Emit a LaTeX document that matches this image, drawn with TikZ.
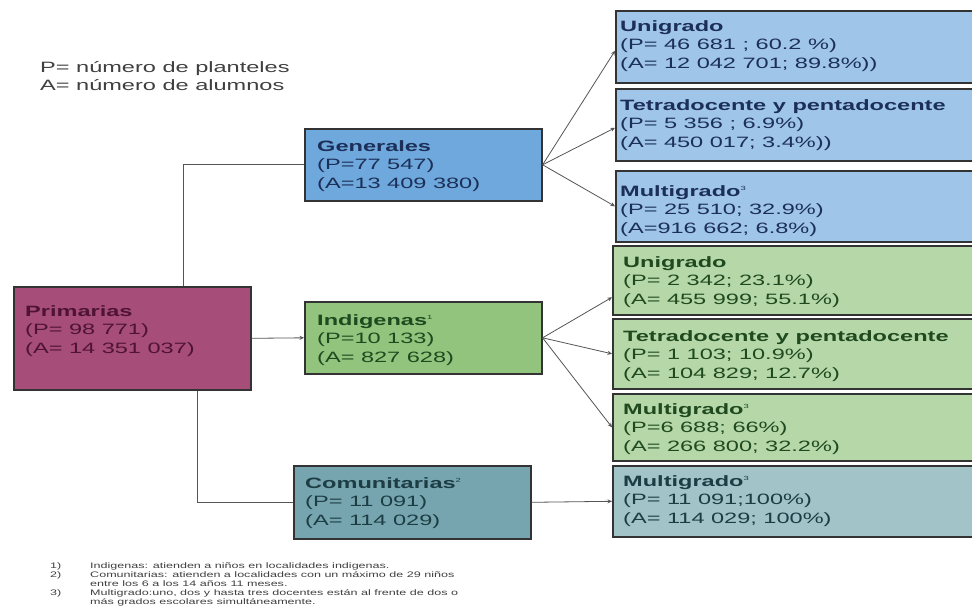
\documentclass[tikz,border=0pt]{standalone}
\usepackage{fontspec}
\setmainfont{Liberation Sans}[FakeStretch=1.57]
\usetikzlibrary{arrows.meta}
\definecolor{cPrim}{HTML}{A64D79}
\definecolor{cGen}{HTML}{6FA8DC}
\definecolor{cInd}{HTML}{93C47D}
\definecolor{cCom}{HTML}{76A5AF}
\definecolor{cBlue}{HTML}{9FC5E8}
\definecolor{cGreen}{HTML}{B6D7A8}
\definecolor{cTeal}{HTML}{A2C4C9}
\definecolor{tPrim}{HTML}{4F1433}
\definecolor{tBlue}{HTML}{1C2F58}
\definecolor{tGreen}{HTML}{1F4A1F}
\definecolor{tTeal}{HTML}{1D3D44}
\definecolor{edge}{HTML}{333333}
\definecolor{conn}{HTML}{555555}
\newcommand{\fn}[1]{\textsuperscript{\fontsize{6}{6}\selectfont #1}}
\tikzset{
  boxnode/.style={draw=edge, line width=1.6pt, rectangle, inner sep=0pt, anchor=north west},
  txt/.style={anchor=base west, inner sep=0pt, align=left, font=\fontsize{15}{18.5}\selectfont},
  fntxt/.style={anchor=base west, inner sep=0pt, align=left, font=\fontsize{8}{9}\selectfont, text=black!75},
  link/.style={draw=conn, line width=0.8pt},
  arr/.style={link, -{Stealth[length=4.5pt,width=4pt]}}
}
\begin{document}
\begin{tikzpicture}[x=1pt,y=-1pt]
\useasboundingbox (0,0) rectangle (972,614);
\clip (0,0) rectangle (972,614);
\fill[white] (0,0) rectangle (972,614);

% legend (anchor = baseline of last line)
\node[txt, text=black!75] (leg) at (40,90.5) {P= número de planteles\\A= número de alumnos};

% boxes
\node[boxnode, fill=cPrim, minimum width=237pt, minimum height=103pt] (prim) at (13,286) {};
\node[boxnode, fill=cGen, minimum width=237pt, minimum height=72pt] (gen) at (304,128) {};
\node[boxnode, fill=cInd, minimum width=237pt, minimum height=72pt] (ind) at (304,301) {};
\node[boxnode, fill=cCom, minimum width=237pt, minimum height=73pt] (com) at (293,465) {};

\node[boxnode, fill=cBlue, minimum width=362pt, minimum height=72pt] (bu) at (615,10) {};
\node[boxnode, fill=cBlue, minimum width=362pt, minimum height=72pt] (bt) at (615,88) {};
\node[boxnode, fill=cBlue, minimum width=362pt, minimum height=71pt] (bm) at (615,170) {};
\node[boxnode, fill=cGreen, minimum width=365pt, minimum height=69pt] (gu) at (612,245) {};
\node[boxnode, fill=cGreen, minimum width=365pt, minimum height=70pt] (gt) at (612,318) {};
\node[boxnode, fill=cGreen, minimum width=365pt, minimum height=67pt] (gm) at (612,393) {};
\node[boxnode, fill=cTeal, minimum width=365pt, minimum height=71pt] (tm) at (612,465) {};

% texts (anchor = baseline of last line)
\node[txt, text=tPrim] (primt) at (25,353) {\textbf{Primarias}\\(P= 98 771)\\(A= 14 351 037)};
\node[txt, text=tBlue] (gent) at (317,188) {\textbf{Generales}\\(P=77 547)\\(A=13 409 380)};
\node[txt, text=tGreen] (indt) at (317,362) {\textbf{Indigenas}\fn{1}\\(P=10 133)\\(A= 827 628)};
\node[txt, text=tTeal] (comt) at (305,525) {\textbf{Comunitarias}\fn{2}\\(P= 11 091)\\(A= 114 029)};

\node[txt, text=tBlue] (but) at (620,68) {\textbf{Unigrado}\\(P= 46 681 ; 60.2 \%)\\(A= 12 042 701; 89.8\%))};
\node[txt, text=tBlue] (btt) at (620,147) {\textbf{Tetradocente y pentadocente}\\(P= 5 356 ; 6.9\%)\\(A= 450 017; 3.4\%))};
\node[txt, text=tBlue] (bmt) at (620,233) {\textbf{Multigrado}\fn{3}\\(P= 25 510; 32.9\%)\\(A=916 662; 6.8\%)};
\node[txt, text=tGreen] (gut) at (623,304) {\textbf{Unigrado}\\(P= 2 342; 23.1\%)\\(A= 455 999; 55.1\%)};
\node[txt, text=tGreen] (gtt) at (623,378) {\textbf{Tetradocente y pentadocente}\\(P= 1 103; 10.9\%)\\(A= 104 829; 12.7\%)};
\node[txt, text=tGreen] (gmt) at (623,451) {\textbf{Multigrado}\fn{3}\\(P=6 688; 66\%)\\(A= 266 800; 32.2\%)};
\node[txt, text=tTeal] (tmt) at (623,523) {\textbf{Multigrado}\fn{3}\\(P= 11 091;100\%)\\(A= 114 029; 100\%)};

% connectors
\draw[link] ([xshift=51.5pt]prim.north) |- (gen.west);
\draw[arr] (prim.east) -- (ind.west);
\draw[link] ([xshift=65.5pt]prim.south) |- (com.west);

\draw[arr] (gen.east) -- ([yshift=-4pt]bu.west);
\draw[arr] (gen.east) -- ([yshift=-3pt]bt.west);
\draw[arr] (gen.east) -- (bm.west);

\draw[arr] (ind.east) -- ([yshift=-17pt]gu.west);
\draw[arr] (ind.east) -- (gt.west);
\draw[arr] (ind.east) -- (gm.west);

\draw[arr] (com.east) -- (tm.west);

% footnotes (anchor = baseline of last line)
\node[fntxt] (n1) at (50,595) {1)\\2)\\ \\3)};
\node[fntxt] (f1) at (90,604) {Indigenas: atienden a niños en localidades indigenas.\\Comunitarias: atienden a localidades con un máximo de 29 niños\\entre los 6 a los 14 años 11 meses.\\Multigrado:uno, dos y hasta tres docentes están al frente de dos o\\más grados escolares simultáneamente.};
\end{tikzpicture}
\end{document}
